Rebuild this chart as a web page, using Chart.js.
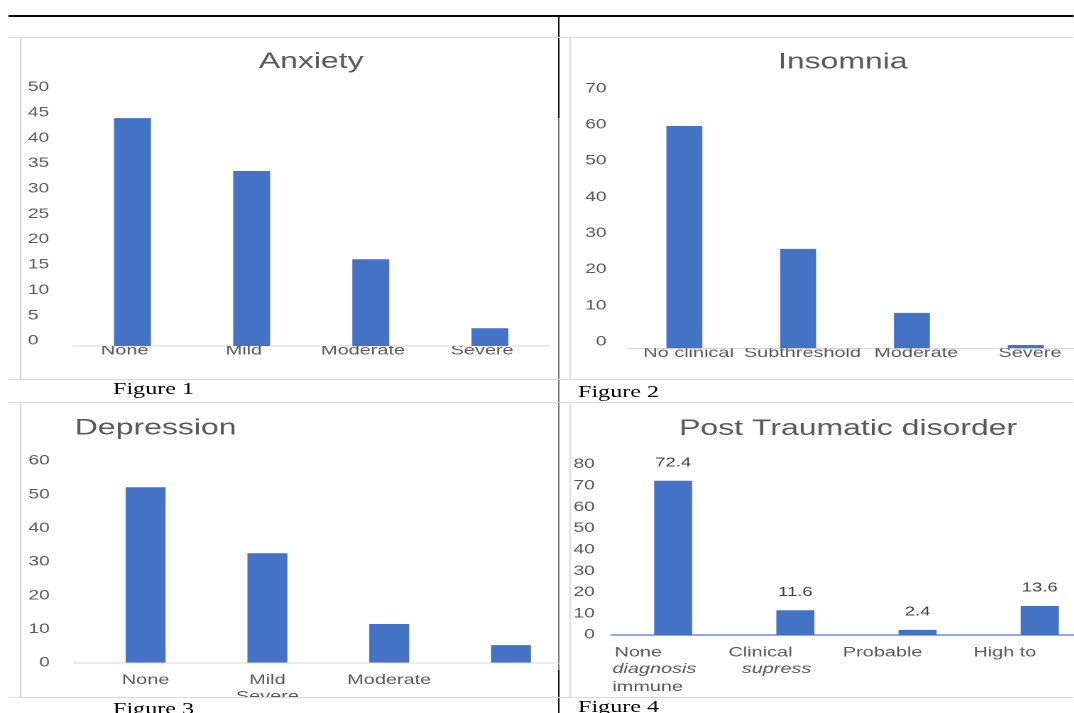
<!DOCTYPE html>
<html>
<head>
<meta charset="utf-8">
<title>Anxiety, insomnia, depression and post traumatic disorder</title>
<script src="https://cdn.jsdelivr.net/npm/chart.js@4"></script>
<style>
  html, body { margin: 0; padding: 0; background: #fff; width: 1074px; height: 713px; overflow: hidden; }
  /* the sheet is laid out narrow and stretched sideways as a whole */
  #page { position: absolute; left: 0; top: 0; width: 757px; height: 713px;
          transform: scaleX(1.42); transform-origin: 0 0; }
  .rule { position: absolute; }
  .panel { position: absolute; overflow: hidden; }
  .caption { position: absolute; font-family: 'Liberation Serif', 'Times New Roman', serif;
             font-size: 17px; line-height: 17px; color: #000; white-space: nowrap; }
</style>
</head>
<body>
<div id="page"></div>
<script>
// ---- data ---------------------------------------------------------------
const anxietyLabels = ['None', 'Mild', 'Moderate', 'Severe'];
const anxietyValues = [44.9, 34.5, 17.1, 3.5];
const anxietyTicks = [0, 5, 10, 15, 20, 25, 30, 35, 40, 45, 50];

const insomniaLabels = ['No clinical', 'Subthreshold', 'Moderate', 'Severe'];
const insomniaValues = [61.5, 27.5, 9.8, 0.9];
const insomniaTicks = [0, 10, 20, 30, 40, 50, 60, 70];

const depressionLabels = ['None', ['Mild', 'Severe'], 'Moderate', ''];
const depressionValues = [52.2, 32.6, 11.6, 5.3];
const depressionTicks = [0, 10, 20, 30, 40, 50, 60];

const ptsdLabels = ['None', 'Clinical', 'Probable', 'High to'];
const ptsdSecondLine = ['diagnosis', 'supress', '', ''];
const ptsdThirdLine = ['immune', '', '', ''];
const ptsdValues = [72.4, 11.6, 2.4, 13.6];
const ptsdTicks = [0, 10, 20, 30, 40, 50, 60, 70, 80];

// ---- styling helpers -----------------------------------------------------
const SX = 1.42;                 // sideways stretch applied to #page
const u = v => v / SX;           // sheet x distance -> layout px
const FONT = "'Liberation Sans', Arial, Helvetica, sans-serif";
const INK = '#595959';
const BAR = '#4472c4';
const TICK_SIZE = 13.5;
const page = document.getElementById('page');

function hRule(x1, x2, y, t, color) {
  const d = document.createElement('div');
  d.className = 'rule';
  Object.assign(d.style, { left: u(x1) + 'px', top: (y - t / 2) + 'px',
    width: u(x2 - x1) + 'px', height: t + 'px', background: color });
  page.appendChild(d);
}
function vRule(x, y1, y2, t, color) {
  const d = document.createElement('div');
  d.className = 'rule';
  Object.assign(d.style, { left: u(x - t / 2) + 'px', top: y1 + 'px',
    width: u(t) + 'px', height: (y2 - y1) + 'px', background: color });
  page.appendChild(d);
}
function caption(text, x, y) {
  const d = document.createElement('div');
  d.className = 'caption';
  d.textContent = text;
  d.style.left = u(x) + 'px';
  d.style.top = y + 'px';
  page.appendChild(d);
}
function panel(x, y, w, h, clipW) {
  const box = document.createElement('div');
  box.className = 'panel';
  box.style.left = u(x) + 'px';
  box.style.top = y + 'px';
  box.style.width = (clipW || w) + 'px';
  box.style.height = h + 'px';
  const c = document.createElement('canvas');
  c.width = w;
  c.height = h;
  box.appendChild(c);
  page.appendChild(box);
  return c;
}
// widest tick label, so right-aligned (mirrored) labels can end at a chosen gap from the plot
const measure = document.createElement('canvas').getContext('2d');
function widest(list) {
  measure.font = TICK_SIZE + 'px ' + FONT;
  return Math.max(...list.map(v => measure.measureText(String(v)).width));
}
const fixedTicks = list => s => { s.ticks = list.map(v => ({ value: v })); };
const noGrid = { display: false, drawTicks: false };
const base = { responsive: false, animation: false, devicePixelRatio: 2, events: [] };
const quiet = { legend: { display: false }, tooltip: { enabled: false } };
const titleFont = { family: FONT, size: 22.5, weight: 'normal' };
const tickFont = { family: FONT, size: TICK_SIZE };
const labelFont = { family: FONT, size: 14 };

// value printed above each bar
const valueLabels = {
  id: 'valueLabels',
  afterDatasetsDraw(chart, args, opts) {
    const ctx = chart.ctx;
    const values = chart.data.datasets[0].data;
    ctx.save();
    ctx.font = opts.font;
    ctx.fillStyle = opts.color;
    ctx.textAlign = 'center';
    ctx.textBaseline = 'middle';
    chart.getDatasetMeta(0).data.forEach((bar, i) => {
      ctx.fillText(String(values[i]), bar.x, bar.y - opts.offset);
    });
    ctx.restore();
  }
};

// ---- table rules and captions -------------------------------------------
hRule(9, 1074, 16, 1.2, '#000');
vRule(558.5, 16, 118, 1.3, '#000');
vRule(558.5, 118, 670, 2, '#6f6f6f');
vRule(558.5, 670, 713, 1.3, '#000');
hRule(9, 1074, 37, 1, '#d9d9d9');
vRule(21, 37, 379, 1.5, '#d4d4d4');
vRule(21, 402, 697, 1.5, '#d4d4d4');
vRule(570, 37, 379, 1.5, '#d9d9d9');
vRule(570, 402, 697, 1.5, '#d9d9d9');
hRule(9, 1074, 379.5, 1, '#d9d9d9');
hRule(9, 1074, 402, 1, '#d9d9d9');
hRule(9, 1074, 697, 1, '#d9d9d9');
caption('Figure 1', 113, 380);
caption('Figure 2', 578, 382.5);
caption('Figure 3', 113, 700);
caption('Figure 4', 578, 698);

// ---- Figure 1: Anxiety ---------------------------------------------------
new Chart(panel(21.5, 38, 378, 340), {
  type: 'bar',
  data: { labels: anxietyLabels,
    datasets: [{ data: anxietyValues, backgroundColor: BAR, barPercentage: 0.31, categoryPercentage: 1 }] },
  options: Object.assign({}, base, {
    layout: { padding: { left: u(28 - 21.5), right: 378 - u(549.7 - 21.5), top: 0, bottom: 0 } },
    plugins: Object.assign({}, quiet, {
      title: { display: true, text: 'Anxiety', fullSize: false, color: INK, font: titleFont,
               padding: { top: 10.5, bottom: 16.8 } }
    }),
    scales: {
      x: { grid: noGrid, border: { display: true, color: '#d9d9d9', width: 1 },
           afterFit: s => { s.height = 32; },
           ticks: { color: INK, font: labelFont, padding: -3.7, labelOffset: -5.5,
                    maxRotation: 0, autoSkip: false } },
      y: { min: 0, max: 50, grid: noGrid, border: { display: false },
           afterBuildTicks: fixedTicks(anxietyTicks),
           afterFit: s => { s.width = u(73.1 - 28); },
           ticks: { color: INK, font: tickFont, crossAlign: 'far', labelOffset: -5 } }
    }
  })
});

// ---- Figure 2: Insomnia --------------------------------------------------
new Chart(panel(571, 38, 361, 340), {
  type: 'bar',
  data: { labels: insomniaLabels,
    datasets: [{ data: insomniaValues, backgroundColor: BAR, barPercentage: 0.316, categoryPercentage: 1 }] },
  options: Object.assign({}, base, {
    layout: { padding: { left: u(603.2 - 571), right: 361 - u(1082.8 - 571), top: 0, bottom: 0 } },
    plugins: Object.assign({}, quiet, {
      title: { display: true, text: 'Insomnia', fullSize: true, color: INK, font: titleFont,
               padding: { top: 11, bottom: 19.3 } }
    }),
    scales: {
      x: { grid: noGrid, border: { display: true, color: '#d9d9d9', width: 1 },
           afterFit: s => { s.height = 29.7; },
           ticks: { color: INK, font: labelFont, padding: -3.7, labelOffset: 3,
                    maxRotation: 0, autoSkip: false } },
      y: { min: 0, max: 70, grid: noGrid, border: { display: false },
           afterBuildTicks: fixedTicks(insomniaTicks),
           afterFit: s => { s.width = u(627.6 - 603.2); },
           // right-aligned labels ending 21px left of the plot
           ticks: { color: INK, font: tickFont, mirror: true, crossAlign: 'far',
                    padding: u(606.7 - 627.6) - widest(insomniaTicks), labelOffset: -6.6 } }
    }
  })
});

// ---- Figure 3: Depression ------------------------------------------------
new Chart(panel(21.5, 402, 388, 295, u(560 - 21.5)), {
  type: 'bar',
  data: { labels: depressionLabels,
    datasets: [{ data: depressionValues, backgroundColor: BAR, barPercentage: 0.328, categoryPercentage: 1 }] },
  options: Object.assign({}, base, {
    layout: { padding: { left: u(75 - 21.5), right: 388 - u(572.1 - 21.5), top: 0, bottom: 0 } },
    plugins: Object.assign({}, quiet, {
      title: { display: true, text: 'Depression', fullSize: true, align: 'start', color: INK, font: titleFont,
               padding: { top: 12.8, bottom: 19.2 } }
    }),
    scales: {
      x: { grid: noGrid, border: { display: false },
           afterFit: s => { s.height = 34; },
           ticks: { color: INK, font: labelFont, padding: 8.6, maxRotation: 0, autoSkip: false } },
      y: { min: 0, max: 60, border: { display: false },
           grid: { display: true, drawTicks: true, tickLength: u(84.9 - 73), lineWidth: 1,
                   color: c => (c.tick && c.tick.value === 0) ? '#d9d9d9' : 'rgba(0,0,0,0)' },
           afterBuildTicks: fixedTicks(depressionTicks),
           afterFit: s => { s.width = u(84.9 - 75); },
           ticks: { color: INK, font: tickFont, mirror: true, crossAlign: 'far',
                    padding: u(50 - 84.9) - widest(depressionTicks) } }
    }
  })
});

// ---- Figure 4: Post Traumatic disorder -----------------------------------
const line2 = Object.assign({}, labelFont, { style: 'italic' });
new Chart(panel(571, 402, 374, 295), {
  type: 'bar',
  plugins: [valueLabels],
  data: { labels: ptsdLabels,
    datasets: [{ data: ptsdValues, backgroundColor: BAR, barPercentage: 0.311, categoryPercentage: 1 }] },
  options: Object.assign({}, base, {
    layout: { padding: { left: u(595.6 - 571), right: 374 - u(1101 - 571), top: 0, bottom: 0 } },
    plugins: Object.assign({}, quiet, {
      title: { display: true, text: 'Post Traumatic disorder', fullSize: true, color: INK, font: titleFont,
               padding: { top: 13.2, bottom: 22.3 } },
      valueLabels: { offset: 18, color: '#404040', font: '13px ' + FONT }
    }),
    scales: {
      x: { type: 'category', position: 'bottom', weight: 0, grid: noGrid,
           border: { display: true, color: '#8faadc', width: 2 },
           afterFit: s => { s.height = 26.2; },
           ticks: { color: INK, font: labelFont, padding: 9.4, labelOffset: u(-34.9),
                    maxRotation: 0, autoSkip: false } },
      x2: { axis: 'x', type: 'category', labels: ptsdSecondLine, position: 'bottom', weight: 1, offset: true,
            grid: noGrid, border: { display: false },
            afterFit: s => { s.height = 17.3; },
            ticks: { color: INK, font: line2, padding: -0.3, labelOffset: u(-18.8),
                     maxRotation: 0, autoSkip: false } },
      x3: { axis: 'x', type: 'category', labels: ptsdThirdLine, position: 'bottom', weight: 2, offset: true,
            grid: noGrid, border: { display: false },
            afterFit: s => { s.height = 18.5; },
            ticks: { color: INK, font: labelFont, padding: 0, labelOffset: u(-25.5),
                     maxRotation: 0, autoSkip: false } },
      y: { min: 0, max: 80, grid: noGrid, border: { display: false },
           afterBuildTicks: fixedTicks(ptsdTicks),
           afterFit: s => { s.width = u(612.2 - 595.6); },
           ticks: { color: INK, font: tickFont, mirror: true, crossAlign: 'far',
                    padding: u(595 - 612.2) - widest(ptsdTicks) } }
    }
  })
});
</script>
</body>
</html>
